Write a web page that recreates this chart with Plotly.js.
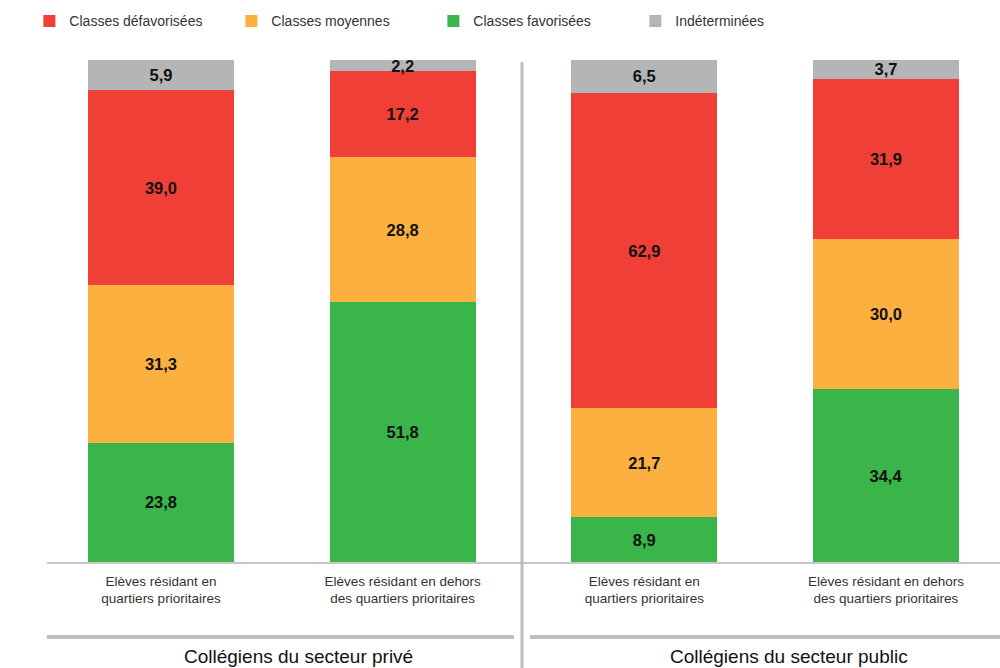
<!DOCTYPE html>
<html>
<head>
<meta charset="utf-8">
<script src="https://cdn.plot.ly/plotly-3.0.1.min.js"></script>
<style>html,body{margin:0;padding:0;background:#fff;}#chart{width:1000px;height:668px;}</style>
</head>
<body>
<div id="chart"></div>
<script>
const categories = [
  "Elèves résidant en<br>quartiers prioritaires",
  "Elèves résidant en dehors<br>des quartiers prioritaires",
  "Elèves résidant en<br>quartiers prioritaires",
  "Elèves résidant en dehors<br>des quartiers prioritaires"
];
const groups = ["Collégiens du secteur privé", "Collégiens du secteur public"];
const favorisees = [23.8, 51.8, 8.9, 34.4];
const moyennes = [31.3, 28.8, 21.7, 30.0];
const defavorisees = [39.0, 17.2, 62.9, 31.9];
const indeterminees = [5.9, 2.2, 6.5, 3.7];

const positions = [0, 1, 2, 3];
const FONT = '"Liberation Sans Narrow", "Liberation Sans", Arial, sans-serif';
const fmt = v => v.toFixed(1).replace('.', ',');

function mk(name, vals, color, legendrank) {
  return {
    type: 'bar', name: name, x: positions, y: vals,
    marker: {color: color, line: {width: 0}},
    width: 0.604,
    text: vals.map(fmt),
    textposition: 'inside',
    insidetextanchor: 'middle',
    constraintext: 'none',
    textangle: 0,
    textfont: {family: FONT, size: 16.5, color: '#111', weight: 'bold'},
    hoverinfo: 'name+y',
    legendrank: legendrank
  };
}

const data = [
  mk('Classes favorisées', favorisees, '#3AB54A', 3),
  mk('Classes moyennes', moyennes, '#FBB040', 2),
  mk('Classes défavorisées', defavorisees, '#EF3F37', 1),
  mk('Indéterminées', indeterminees, '#B3B5B6', 4)
];

const grey = '#BEBEBE';
const layout = {
  width: 1000, height: 668,
  margin: {l: 47, r: 0, t: 60, b: 106},
  barmode: 'stack',
  paper_bgcolor: '#fff', plot_bgcolor: '#fff',
  font: {family: FONT, color: '#333'},
  showlegend: true,
  legend: {
    orientation: 'h', x: -0.0185, xanchor: 'left', y: 1.109, yanchor: 'top',
    traceorder: 'normal', entrywidth: 157, entrywidthmode: 'pixels',
    font: {family: FONT, size: 14, color: '#333'},
    itemclick: false, itemdoubleclick: false
  },
  xaxis: {
    range: [-0.4717, 3.472],
    tickvals: positions, ticktext: categories,
    showgrid: false, zeroline: false,
    showline: true, linecolor: '#C8C8C8', linewidth: 1.5,
    ticks: '', ticklabelstandoff: 6,
    tickfont: {family: FONT, size: 13.5, color: '#333'},
    fixedrange: true
  },
  yaxis: {
    range: [0, 100], visible: false, fixedrange: true
  },
  shapes: [
    {type: 'line', xref: 'paper', yref: 'paper', x0: 0.4984, x1: 0.4984, y0: 0.996, y1: -0.22,
     line: {color: grey, width: 3}},
    {type: 'line', xref: 'paper', yref: 'paper', x0: 0, x1: 0.490, y0: -0.1494, y1: -0.1494,
     line: {color: grey, width: 4}},
    {type: 'line', xref: 'paper', yref: 'paper', x0: 0.5068, x1: 1, y0: -0.1494, y1: -0.1494,
     line: {color: grey, width: 4}}
  ],
  annotations: [
    {xref: 'paper', yref: 'paper', x: 0.2634, y: -0.189, text: groups[0], showarrow: false,
     xanchor: 'center', yanchor: 'middle', font: {family: FONT, size: 19, color: '#111'}},
    {xref: 'paper', yref: 'paper', x: 0.7786, y: -0.189, text: groups[1], showarrow: false,
     xanchor: 'center', yanchor: 'middle', font: {family: FONT, size: 19, color: '#111'}}
  ]
};

Plotly.newPlot('chart', data, layout, {displayModeBar: false, staticPlot: true});
</script>
</body>
</html>
